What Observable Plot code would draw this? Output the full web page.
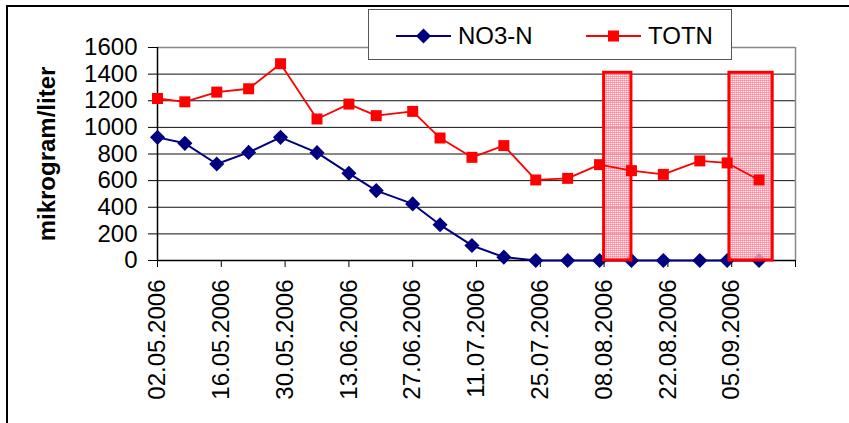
<!DOCTYPE html>
<html><head><meta charset="utf-8">
<script src="https://cdn.jsdelivr.net/npm/d3@7"></script>
<script src="https://cdn.jsdelivr.net/npm/@observablehq/plot@0.6"></script>
<style>
body{margin:0;background:#fff;}
#wrap{position:relative;width:849px;height:423px;overflow:hidden;font-family:"Liberation Sans",Arial,sans-serif;}
#wrap svg{position:absolute;left:0;top:0;}
#frame{position:absolute;left:6px;top:5px;right:-10px;bottom:-10px;border-left:2px solid #000;border-top:2px solid #000;}
#legend{position:absolute;left:368px;top:9px;width:364px;height:51px;background:#fff;border:1px solid #555;box-sizing:border-box;}
#legend svg{position:absolute;left:0;top:0;}
</style>
</head><body>
<div id="wrap"><div id="frame"></div></div>
<script>
// sample dates
const dates = ["2006-05-02","2006-05-08","2006-05-15","2006-05-22","2006-05-29","2006-06-06","2006-06-13","2006-06-19","2006-06-27","2006-07-03","2006-07-10","2006-07-17","2006-07-24","2006-07-31","2006-08-07","2006-08-14","2006-08-21","2006-08-29","2006-09-04","2006-09-11"];
const no3n = [925,880,725,812,925,810,655,525,425,268,113,25,0,0,0,0,0,0,0,0];
const totn = [1217,1192,1265,1290,1478,1063,1175,1088,1120,920,775,863,605,617,720,675,647,748,733,605];
const seriesNames = ["NO3-N","TOTN"];
const seriesColors = ["#000080","#ff0000"];
const xTicks = ["2006-05-02","2006-05-16","2006-05-30","2006-06-13","2006-06-27","2006-07-11","2006-07-25","2006-08-08","2006-08-22","2006-09-05","2006-09-19"];
const lastLabel = "2006-09-05";
const xDomain = ["2006-05-02","2006-09-19"];
const yTicks = [0,200,400,600,800,1000,1200,1400,1600];
const highlightStart = ["2006-08-08","2006-09-04T12:00"];
const highlightEnd = ["2006-08-14","2006-09-14"];
const highlightTop = [1410,1410];
const yLabel = "mikrogram/liter";

const P = d => new Date(d);
const rowsNO3 = dates.map((d,i)=>({date:P(d), value:no3n[i]}));
const rowsTOT = dates.map((d,i)=>({date:P(d), value:totn[i]}));
const rects = highlightStart.map((d,i)=>({x1:P(d), x2:P(highlightEnd[i]), y2:highlightTop[i]}));
const fmt = d3.utcFormat("%d.%m.%Y");
const lastD = P(lastLabel);

const chart = Plot.plot({
  width: 849, height: 423,
  marginLeft: 157, marginRight: 54, marginTop: 47, marginBottom: 163,
  style: {fontFamily: '"Liberation Sans", Arial, sans-serif', fontSize: "24px", background: "transparent", color: "#000"},
  x: {type: "utc", domain: xDomain.map(P)},
  y: {domain: [0,1600]},
  marks: [
    Plot.gridY(yTicks.filter(v=>v>0 && v<1600), {stroke: "#111", strokeOpacity: 1}),
    Plot.ruleY([1600], {stroke: "#888", strokeWidth: 1.5}),
    Plot.ruleX([P(xDomain[1])], {stroke: "#888", strokeWidth: 1.5}),
    Plot.axisY({ticks: yTicks, tickSize: 9, tickPadding: 11, fontSize: 24, label: null, stroke: "#000", tickFormat: d => String(d)}),
    Plot.axisX({ticks: xTicks.map(P), tickSize: 7, tickPadding: 12, tickRotate: -90, fontSize: 24, label: null,
      tickFormat: d => d > lastD ? "" : fmt(d)}),
    Plot.ruleX([P(xDomain[0])], {stroke: "#000", strokeWidth: 1.5}),
    Plot.ruleY([0], {stroke: "#000", strokeWidth: 1.5}),
    Plot.line(rowsNO3, {x: "date", y: "value", stroke: seriesColors[0], strokeWidth: 2}),
    Plot.dot(rowsNO3, {x: "date", y: "value", symbol: "diamond2", r: 6.8, fill: seriesColors[0], stroke: "none"}),
    Plot.rect(rects, {x1: "x1", x2: "x2", y1: 0, y2: "y2", fill: "url(#hatch)", stroke: "#ff0000", strokeWidth: 3}),
    Plot.line(rowsTOT, {x: "date", y: "value", stroke: seriesColors[1], strokeWidth: 1.8}),
    Plot.dot(rowsTOT, {x: "date", y: "value", symbol: "square", r: 6.2, fill: seriesColors[1], stroke: "none"}),
    Plot.text([yLabel], {frameAnchor: "left", textAnchor: "middle", dx: -110, rotate: -90, fontSize: 24, fontWeight: "bold", text: d => d})
  ]
});
const ns = "http://www.w3.org/2000/svg";
const defs = document.createElementNS(ns, "defs");
defs.innerHTML = '<pattern id="hatch" width="2" height="2" patternUnits="userSpaceOnUse"><rect width="2" height="2" fill="#ffe0e6" fill-opacity="0.7"/><rect width="2" height="1" fill="#ff7088" fill-opacity="0.6"/><rect width="1" height="2" fill="#ff7088" fill-opacity="0.45"/></pattern>';
chart.insertBefore(defs, chart.firstChild);
const wrap = document.getElementById("wrap");
wrap.insertBefore(chart, wrap.firstChild);

// legend
const leg = document.createElement("div");
leg.id = "legend";
const lx = [27, 217];
const symbolsSvg = [
  c => `<path d="M0,-7.5L7.5,0L0,7.5L-7.5,0Z" fill="${c}"/>`,
  c => `<rect x="-5.5" y="-5.5" width="11" height="11" fill="${c}"/>`
];
let s = `<svg width="364" height="51" xmlns="${ns}" style="font-family:'Liberation Sans',Arial,sans-serif">`;
seriesNames.forEach((n,i)=>{
  s += `<line x1="${lx[i]}" x2="${lx[i]+55}" y1="26" y2="26" stroke="${seriesColors[i]}" stroke-width="2"/>`;
  s += `<g transform="translate(${lx[i]+27.5},26)">${symbolsSvg[i](seriesColors[i])}</g>`;
  s += `<text x="${lx[i]+62}" y="34" font-size="24" fill="#000">${n}</text>`;
});
s += `</svg>`;
leg.innerHTML = s;
wrap.appendChild(leg);
</script>
</body></html>
